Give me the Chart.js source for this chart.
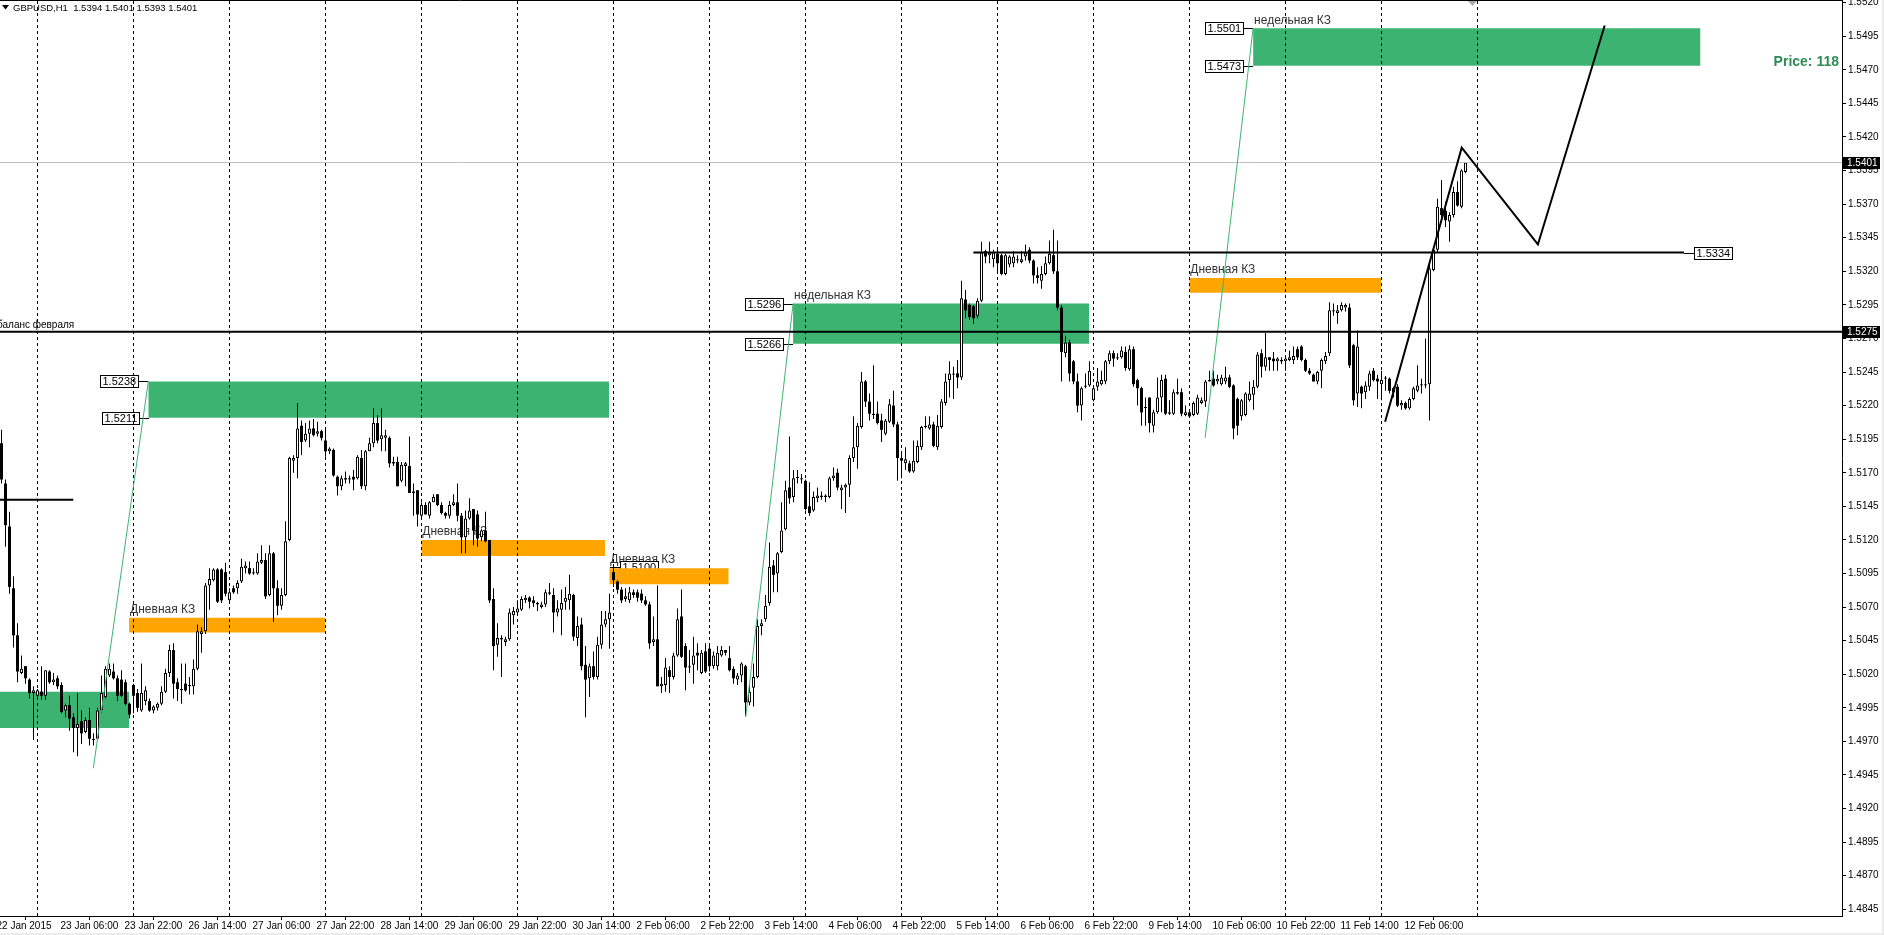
<!DOCTYPE html>
<html>
<head>
<meta charset="utf-8">
<title>GBPUSD,H1</title>
<script src="https://cdn.jsdelivr.net/npm/chart.js@4.4.1/dist/chart.umd.min.js"></script>
<style>
  html, body { margin: 0; padding: 0; background: #fff; }
  canvas { display: block; }
</style>
</head>
<body>
<canvas id="chart" width="1884" height="935"></canvas>
<script>
// GBPUSD H1 candles, one entry per hourly bar
const opens = [
  1.5192,1.5162,1.5130,1.5084,1.5049,1.5021,1.5026,1.5016,1.5006,1.5004,
  1.5007,1.5004,1.5022,1.5014,1.5017,1.5012,1.4993,1.4997,1.4988,1.4980,
  1.4985,1.4977,1.4986,1.4971,1.4972,1.4993,1.5003,1.5019,1.5022,1.5017,
  1.5016,1.5014,1.4998,1.5012,1.5006,1.4993,1.5000,1.5000,1.4993,1.4995,
  1.4998,1.5007,1.5021,1.5038,1.5014,1.5008,1.5013,1.5011,1.5011,1.5024,
  1.5050,1.5052,1.5086,1.5090,1.5098,1.5098,1.5096,1.5075,1.5084,1.5084,
  1.5089,1.5099,1.5099,1.5095,1.5095,1.5103,1.5105,1.5079,1.5110,1.5084,
  1.5071,1.5079,1.5120,1.5179,1.5181,1.5205,1.5194,1.5199,1.5203,1.5199,
  1.5201,1.5194,1.5186,1.5187,1.5167,1.5160,1.5166,1.5165,1.5167,1.5166,
  1.5181,1.5160,1.5186,1.5192,1.5207,1.5195,1.5196,1.5196,1.5178,1.5178,
  1.5164,1.5175,1.5175,1.5156,1.5157,1.5138,1.5146,1.5138,1.5148,1.5154,
  1.5146,1.5140,1.5138,1.5146,1.5148,1.5138,1.5122,1.5136,1.5143,1.5139,
  1.5122,1.5127,1.5120,1.5076,1.5042,1.5047,1.5044,1.5046,1.5064,1.5066,
  1.5068,1.5075,1.5077,1.5075,1.5072,1.5070,1.5072,1.5080,1.5079,1.5066,
  1.5068,1.5074,1.5075,1.5079,1.5047,1.5057,1.5027,1.5017,1.5026,1.5018,
  1.5042,1.5057,1.5061,1.5096,1.5089,1.5083,1.5076,1.5075,1.5081,1.5081,
  1.5080,1.5075,1.5072,1.5044,1.5046,1.5011,1.5012,1.5023,1.5018,1.5034,
  1.5063,1.5041,1.5025,1.5027,1.5036,1.5021,1.5037,1.5039,1.5026,1.5026,
  1.5034,1.5038,1.5032,1.5024,1.5016,1.5019,1.5026,1.4999,1.5010,1.5018,
  1.5056,1.5061,1.5073,1.5101,1.5095,1.5111,1.5128,1.5159,1.5152,1.5166,
  1.5165,1.5164,1.5145,1.5142,1.5151,1.5152,1.5152,1.5152,1.5166,1.5170,
  1.5157,1.5159,1.5161,1.5181,1.5189,1.5204,1.5238,1.5223,1.5213,1.5214,
  1.5209,1.5199,1.5208,1.5220,1.5206,1.5181,1.5177,1.5177,1.5171,1.5178,
  1.5189,1.5204,1.5203,1.5206,1.5189,1.5204,1.5222,1.5239,1.5243,1.5244,
  1.5241,1.5299,1.5295,1.5294,1.5287,1.5298,1.5335,1.5332,1.5329,1.5333,
  1.5332,1.5318,1.5325,1.5326,1.5328,1.5327,1.5331,1.5336,1.5328,1.5317,
  1.5313,1.5318,1.5326,1.5332,1.5320,1.5293,1.5259,1.5267,1.5253,1.5238,
  1.5220,1.5234,1.5235,1.5224,1.5234,1.5236,1.5238,1.5253,1.5259,1.5255,
  1.5256,1.5260,1.5247,1.5262,1.5239,1.5233,1.5218,1.5226,1.5205,1.5215,
  1.5226,1.5240,1.5214,1.5214,1.5230,1.5230,1.5213,1.5215,1.5213,1.5214,
  1.5222,1.5223,1.5238,1.5240,1.5238,1.5236,1.5238,1.5241,1.5235,1.5225,
  1.5212,1.5213,1.5224,1.5228,1.5234,1.5259,1.5249,1.5256,1.5255,1.5253,
  1.5254,1.5253,1.5254,1.5254,1.5262,1.5264,1.5254,1.5246,1.5243,1.5238,
  1.5246,1.5253,1.5259,1.5290,1.5289,1.5291,1.5293,1.5293,1.5265,1.5229,
  1.5234,1.5230,1.5234,1.5246,1.5240,1.5236,1.5240,1.5240,1.5233,1.5234,
  1.5220,1.5222,1.5218,1.5225,1.5231,1.5235,1.5235,1.5236,1.5321,1.5336,
  1.5367,1.5365,1.5357,1.5362,1.5379,1.5368,1.5394
];
const highs = [
  1.5202,1.5165,1.5141,1.5093,1.5058,1.5034,1.5026,1.5017,1.5011,1.5009,
  1.5026,1.5023,1.5023,1.5021,1.5019,1.5014,1.4998,1.5004,1.4991,1.5006,
  1.4993,1.4988,1.4995,1.4976,1.4995,1.5019,1.5026,1.5028,1.5028,1.5019,
  1.5023,1.5016,1.4999,1.5013,1.5009,1.5028,1.5011,1.5002,1.4997,1.4999,
  1.5011,1.5024,1.5042,1.5043,1.5017,1.5028,1.5028,1.5018,1.5031,1.5057,
  1.5055,1.5088,1.5099,1.5099,1.5099,1.5099,1.5103,1.5084,1.5086,1.5090,
  1.5106,1.5104,1.5104,1.5099,1.5110,1.5116,1.5110,1.5116,1.5111,1.5090,
  1.5084,1.5134,1.5182,1.5183,1.5222,1.5209,1.5207,1.5209,1.5210,1.5208,
  1.5202,1.5202,1.5189,1.5188,1.5168,1.5168,1.5171,1.5168,1.5172,1.5183,
  1.5187,1.5187,1.5196,1.5218,1.5213,1.5218,1.5202,1.5197,1.5182,1.5182,
  1.5178,1.5178,1.5197,1.5162,1.5157,1.5148,1.5148,1.5149,1.5154,1.5154,
  1.5148,1.5141,1.5149,1.5154,1.5162,1.5140,1.5142,1.5151,1.5143,1.5142,
  1.5128,1.5141,1.5120,1.5084,1.5058,1.5049,1.5048,1.5069,1.5070,1.5075,
  1.5078,1.5079,1.5078,1.5078,1.5074,1.5074,1.5083,1.5088,1.5084,1.5075,
  1.5083,1.5085,1.5094,1.5080,1.5063,1.5062,1.5041,1.5028,1.5037,1.5048,
  1.5067,1.5067,1.5080,1.5102,1.5090,1.5085,1.5084,1.5085,1.5083,1.5083,
  1.5083,1.5078,1.5074,1.5063,1.5086,1.5018,1.5032,1.5026,1.5036,1.5069,
  1.5083,1.5043,1.5038,1.5048,1.5043,1.5038,1.5043,1.5041,1.5037,1.5041,
  1.5041,1.5038,1.5041,1.5026,1.5021,1.5029,1.5027,1.5013,1.5028,1.5061,
  1.5061,1.5079,1.5118,1.5105,1.5111,1.5148,1.5164,1.5197,1.5172,1.5172,
  1.5169,1.5165,1.5163,1.5156,1.5159,1.5156,1.5154,1.5167,1.5174,1.5173,
  1.5161,1.5162,1.5183,1.5212,1.5207,1.5245,1.5239,1.5229,1.5250,1.5223,
  1.5214,1.5210,1.5225,1.5231,1.5208,1.5186,1.5189,1.5179,1.5194,1.5194,
  1.5205,1.5212,1.5212,1.5208,1.5213,1.5225,1.5244,1.5253,1.5249,1.5254,
  1.5313,1.5306,1.5296,1.5295,1.5300,1.5342,1.5336,1.5342,1.5336,1.5336,
  1.5333,1.5333,1.5332,1.5335,1.5332,1.5335,1.5340,1.5338,1.5329,1.5323,
  1.5324,1.5331,1.5343,1.5351,1.5343,1.5295,1.5272,1.5269,1.5254,1.5244,
  1.5234,1.5244,1.5253,1.5234,1.5248,1.5246,1.5254,1.5261,1.5261,1.5259,
  1.5264,1.5264,1.5265,1.5264,1.5240,1.5234,1.5226,1.5226,1.5217,1.5241,
  1.5243,1.5243,1.5224,1.5232,1.5240,1.5233,1.5220,1.5215,1.5223,1.5228,
  1.5226,1.5239,1.5246,1.5246,1.5243,1.5243,1.5249,1.5243,1.5236,1.5226,
  1.5225,1.5230,1.5238,1.5239,1.5260,1.5262,1.5274,1.5256,1.5260,1.5256,
  1.5256,1.5256,1.5261,1.5264,1.5264,1.5265,1.5255,1.5248,1.5244,1.5246,
  1.5255,1.5260,1.5297,1.5296,1.5295,1.5297,1.5296,1.5296,1.5266,1.5276,
  1.5235,1.5238,1.5246,1.5248,1.5243,1.5246,1.5242,1.5241,1.5234,1.5236,
  1.5224,1.5223,1.5226,1.5234,1.5250,1.5240,1.5270,1.5326,1.5337,1.5374,
  1.5388,1.5372,1.5364,1.5383,1.5387,1.5396,1.5401
];
const lows = [
  1.5162,1.5115,1.5080,1.5040,1.5014,1.5020,1.5013,1.5002,1.4971,1.5003,
  1.5001,1.5001,1.5013,1.5012,1.5009,1.4991,1.4988,1.4978,1.4962,1.4959,
  1.4968,1.4976,1.4967,1.4967,1.4971,1.4991,1.5002,1.5018,1.5016,1.5000,
  1.5003,1.4997,1.4987,1.4991,1.4992,1.4992,1.4997,1.4992,1.4991,1.4993,
  1.4997,1.5006,1.5018,1.5002,1.5000,1.4998,1.5007,1.5005,1.5005,1.5023,
  1.5036,1.5050,1.5068,1.5089,1.5073,1.5073,1.5078,1.5073,1.5080,1.5080,
  1.5088,1.5095,1.5094,1.5094,1.5094,1.5102,1.5076,1.5078,1.5059,1.5064,
  1.5068,1.5078,1.5119,1.5170,1.5166,1.5183,1.5193,1.5189,1.5197,1.5197,
  1.5194,1.5182,1.5184,1.5167,1.5153,1.5157,1.5162,1.5162,1.5157,1.5165,
  1.5158,1.5157,1.5186,1.5189,1.5192,1.5186,1.5186,1.5174,1.5175,1.5160,
  1.5163,1.5160,1.5155,1.5138,1.5130,1.5136,1.5139,1.5136,1.5148,1.5145,
  1.5139,1.5136,1.5136,1.5145,1.5134,1.5110,1.5110,1.5135,1.5116,1.5115,
  1.5119,1.5118,1.5073,1.5023,1.5033,1.5018,1.5041,1.5045,1.5057,1.5064,
  1.5067,1.5073,1.5069,1.5070,1.5067,1.5069,1.5070,1.5079,1.5051,1.5063,
  1.5049,1.5068,1.5068,1.5045,1.5041,1.5023,1.4988,1.5003,1.5016,1.5016,
  1.5039,1.5055,1.5039,1.5085,1.5080,1.5073,1.5074,1.5073,1.5077,1.5074,
  1.5073,1.5071,1.5039,1.5041,1.5011,1.5006,1.5007,1.5006,1.5016,1.5033,
  1.5032,1.5008,1.5021,1.5013,1.5023,1.5020,1.5021,1.5022,1.5024,1.5023,
  1.5033,1.5034,1.5022,1.5013,1.5012,1.5014,1.4989,1.4997,1.4996,1.5017,
  1.5049,1.5059,1.5071,1.5081,1.5081,1.5110,1.5127,1.5147,1.5148,1.5162,
  1.5162,1.5142,1.5138,1.5141,1.5148,1.5150,1.5148,1.5151,1.5164,1.5157,
  1.5143,1.5140,1.5152,1.5178,1.5173,1.5203,1.5219,1.5209,1.5210,1.5206,
  1.5193,1.5198,1.5207,1.5204,1.5164,1.5166,1.5172,1.5170,1.5170,1.5177,
  1.5187,1.5203,1.5202,1.5189,1.5187,1.5203,1.5220,1.5226,1.5225,1.5233,
  1.5239,1.5285,1.5284,1.5281,1.5285,1.5297,1.5326,1.5326,1.5323,1.5318,
  1.5317,1.5317,1.5323,1.5323,1.5326,1.5326,1.5328,1.5326,1.5311,1.5311,
  1.5307,1.5317,1.5325,1.5318,1.5291,1.5238,1.5256,1.5238,1.5236,1.5215,
  1.5209,1.5233,1.5234,1.5223,1.5231,1.5235,1.5236,1.5251,1.5249,1.5254,
  1.5255,1.5246,1.5246,1.5234,1.5220,1.5205,1.5205,1.5200,1.5200,1.5214,
  1.5215,1.5213,1.5213,1.5213,1.5228,1.5212,1.5212,1.5211,1.5212,1.5213,
  1.5221,1.5219,1.5238,1.5234,1.5236,1.5235,1.5236,1.5233,1.5195,1.5198,
  1.5209,1.5212,1.5223,1.5217,1.5233,1.5241,1.5246,1.5246,1.5246,1.5246,
  1.5251,1.5246,1.5253,1.5251,1.5254,1.5253,1.5245,1.5243,1.5238,1.5236,
  1.5233,1.5251,1.5257,1.5287,1.5281,1.5290,1.5290,1.5248,1.5220,1.5219,
  1.5218,1.5225,1.5231,1.5238,1.5225,1.5224,1.5231,1.5229,1.5226,1.5219,
  1.5217,1.5217,1.5217,1.5224,1.5230,1.5229,1.5233,1.5209,1.5320,1.5334,
  1.5359,1.5353,1.5342,1.5360,1.5368,1.5367,1.5393
];
const closes = [
  1.5165,1.5131,1.5085,1.5049,1.5022,1.5024,1.5017,1.5006,1.5008,1.5008,
  1.5004,1.5023,1.5014,1.5016,1.5011,1.4992,1.4997,1.4987,1.4980,1.4983,
  1.4976,1.4986,1.4972,1.4972,1.4993,1.5006,1.5024,1.5024,1.5017,1.5004,
  1.5004,1.4998,1.4990,1.5004,1.4995,1.5006,1.5008,1.4993,1.4996,1.4998,
  1.5007,1.5021,1.5038,1.5013,1.5009,1.5009,1.5008,1.5012,1.5024,1.5052,
  1.5052,1.5086,1.5091,1.5098,1.5074,1.5075,1.5080,1.5081,1.5081,1.5088,
  1.5100,1.5101,1.5095,1.5096,1.5104,1.5105,1.5078,1.5110,1.5084,1.5071,
  1.5079,1.5119,1.5181,1.5181,1.5203,1.5193,1.5199,1.5203,1.5198,1.5201,
  1.5196,1.5186,1.5188,1.5168,1.5160,1.5166,1.5165,1.5166,1.5165,1.5182,
  1.5160,1.5186,1.5192,1.5207,1.5194,1.5198,1.5198,1.5177,1.5177,1.5160,
  1.5176,1.5177,1.5155,1.5155,1.5139,1.5146,1.5139,1.5148,1.5152,1.5146,
  1.5140,1.5138,1.5146,1.5148,1.5138,1.5122,1.5136,1.5142,1.5127,1.5121,
  1.5127,1.5119,1.5075,1.5041,1.5047,1.5046,1.5046,1.5066,1.5067,1.5069,
  1.5076,1.5077,1.5074,1.5073,1.5073,1.5072,1.5081,1.5081,1.5066,1.5069,
  1.5073,1.5077,1.5080,1.5048,1.5056,1.5026,1.5016,1.5026,1.5018,1.5042,
  1.5057,1.5061,1.5066,1.5090,1.5083,1.5075,1.5078,1.5081,1.5079,1.5077,
  1.5075,1.5072,1.5043,1.5046,1.5011,1.5013,1.5025,1.5018,1.5034,1.5061,
  1.5033,1.5025,1.5026,1.5034,1.5034,1.5036,1.5022,1.5026,1.5034,1.5036,
  1.5038,1.5036,1.5023,1.5017,1.5019,1.5028,1.4999,1.5007,1.5018,1.5056,
  1.5058,1.5071,1.5100,1.5094,1.5110,1.5127,1.5157,1.5151,1.5166,1.5167,
  1.5166,1.5143,1.5140,1.5152,1.5153,1.5153,1.5153,1.5166,1.5168,1.5159,
  1.5159,1.5161,1.5181,1.5189,1.5205,1.5238,1.5223,1.5214,1.5214,1.5207,
  1.5202,1.5209,1.5221,1.5206,1.5181,1.5179,1.5180,1.5171,1.5179,1.5190,
  1.5204,1.5205,1.5206,1.5190,1.5205,1.5223,1.5238,1.5244,1.5244,1.5241,
  1.5300,1.5291,1.5286,1.5285,1.5298,1.5334,1.5331,1.5334,1.5334,1.5326,
  1.5318,1.5332,1.5331,1.5331,1.5329,1.5329,1.5334,1.5328,1.5317,1.5315,
  1.5318,1.5326,1.5333,1.5320,1.5293,1.5260,1.5267,1.5244,1.5238,1.5220,
  1.5233,1.5235,1.5246,1.5233,1.5238,1.5239,1.5253,1.5259,1.5255,1.5256,
  1.5261,1.5248,1.5262,1.5236,1.5233,1.5215,1.5219,1.5207,1.5215,1.5226,
  1.5239,1.5214,1.5215,1.5230,1.5229,1.5214,1.5215,1.5212,1.5222,1.5226,
  1.5224,1.5238,1.5239,1.5235,1.5240,1.5241,1.5241,1.5234,1.5203,1.5205,
  1.5224,1.5229,1.5229,1.5234,1.5258,1.5249,1.5256,1.5254,1.5253,1.5255,
  1.5253,1.5255,1.5256,1.5257,1.5256,1.5254,1.5246,1.5244,1.5238,1.5245,
  1.5254,1.5257,1.5291,1.5291,1.5291,1.5295,1.5295,1.5250,1.5224,1.5264,
  1.5229,1.5235,1.5244,1.5239,1.5238,1.5239,1.5241,1.5231,1.5230,1.5220,
  1.5222,1.5218,1.5225,1.5233,1.5235,1.5236,1.5236,1.5322,1.5336,1.5368,
  1.5362,1.5358,1.5362,1.5379,1.5369,1.5395,1.5401
];

// time axis labels (one every 16 bars) and price axis labels
const timeLabels = [
  "22 Jan 2015", "23 Jan 06:00", "23 Jan 22:00", "26 Jan 14:00", "27 Jan 06:00",
  "27 Jan 22:00", "28 Jan 14:00", "29 Jan 06:00", "29 Jan 22:00", "30 Jan 14:00",
  "2 Feb 06:00", "2 Feb 22:00", "3 Feb 14:00", "4 Feb 06:00", "4 Feb 22:00",
  "5 Feb 14:00", "6 Feb 06:00", "6 Feb 22:00", "9 Feb 14:00", "10 Feb 06:00",
  "10 Feb 22:00", "11 Feb 14:00", "12 Feb 06:00"
];
const priceTicks = [
  1.4845, 1.4870, 1.4895, 1.4920, 1.4945, 1.4970, 1.4995, 1.5020, 1.5045, 1.5070,
  1.5095, 1.5120, 1.5145, 1.5170, 1.5195, 1.5220, 1.5245, 1.5270, 1.5295, 1.5320,
  1.5345, 1.5370, 1.5395, 1.5420, 1.5445, 1.5470, 1.5495, 1.5520
];

// "КЗ" zones: bar range and price range
const greenFrom = [-0.4, 36.7, 197.9, 312.9];
const greenTo = [31.9, 151.9, 271.9, 424.75];
const greenLow = [1.4980, 1.5211, 1.5266, 1.5473];
const greenHigh = [1.5007, 1.5238, 1.5296, 1.5501];
const greenCaption = ["", "", "недельная КЗ", "недельная КЗ"];
const orangeFrom = [31.9, 104.95, 151.95, 296.95];
const orangeTo = [80.9, 150.9, 181.8, 344.9];
const orangeLow = [1.5051, 1.5108, 1.5087, 1.5304];
const orangeHigh = [1.5062, 1.5120, 1.5099, 1.5315];
const orangeCaption = ["Дневная КЗ", "Дневная КЗ", "Дневная КЗ", "Дневная КЗ"];

// thin green impulse lines into the weekly zones
const impulseStart = [[22.95, 1.4950], [186.05, 1.4988], [300.9, 1.5196]];
const impulseEnd = [[36.7, 1.5238], [197.9, 1.5296], [312.9, 1.5501]];

// forecast path (black)
const forecastBars = [345.9, 365.05, 384.1, 400.8];
const forecastPrices = [1.5208, 1.5412, 1.5340, 1.5503];

// horizontal levels
const balancePrice = 1.5275;
const levelPrice = 1.5334, levelFrom = 242.96, levelTo = 420.6;
const oldLevelPrice = 1.5150, oldLevelTo = 17.95;
const lastPrice = closes[closes.length - 1];

// price tags: L = box left of anchor, R = box right of anchor
const tagPrices = [1.5238, 1.5211, 1.5296, 1.5266, 1.5501, 1.5473, 1.5100, 1.5334];
const tagBars = [36.7, 36.9, 197.9, 197.9, 312.9, 312.9, 152.1, 420.6];
const tagSides = ["L", "L", "L", "L", "L", "L", "R", "R"];

const xMin = -0.375, xMax = 460.125;
const yMin = 1.4840, yMax = 1.5522;
const FONT = '"Liberation Sans", Arial, sans-serif';

Chart.defaults.font.family = FONT;
Chart.defaults.font.size = 10;
Chart.defaults.color = "#000";

const n = opens.length;
const wickData = [], upData = [], downData = [];
for (let i = 0; i < n; i++) {
  const lo = Math.min(lows[i], opens[i], closes[i]);
  const hi = Math.max(highs[i], opens[i], closes[i]);
  wickData.push({ x: i, y: [lo, hi] });
  const body = { x: i, y: [opens[i], closes[i]] };
  if (closes[i] >= opens[i]) upData.push(body); else downData.push(body);
}

// dashed day separators
const dayLines = [];
for (let d = 9; d < n + 4; d += 24) {
  dayLines.push({ x: d, y: yMin }, { x: d, y: yMax }, { x: d, y: null });
}

const lineSet = (points, color, width, order) => ({
  type: "line", data: points, borderColor: color, borderWidth: width,
  pointRadius: 0, fill: false, tension: 0, order: order
});
const zoneSet = (from, to, low, high, color) => ({
  type: "line", data: [{ x: from, y: high }, { x: to, y: high }],
  fill: { value: low }, backgroundColor: color, borderColor: "transparent",
  borderWidth: 0, pointRadius: 0, order: 20
});

const datasets = [];
greenFrom.forEach((f, i) => datasets.push(zoneSet(f, greenTo[i], greenLow[i], greenHigh[i], "#3cb371")));
orangeFrom.forEach((f, i) => datasets.push(zoneSet(f, orangeTo[i], orangeLow[i], orangeHigh[i], "#ffa500")));
datasets.push(Object.assign(lineSet(dayLines, "#000", 1, 15), { borderDash: [3, 3], spanGaps: false }));
datasets.push({
  type: "bar", data: wickData, backgroundColor: "#000", borderWidth: 0,
  barThickness: 1, maxBarThickness: 1, grouped: false, minBarLength: 1, inflateAmount: 0, order: 10
});
datasets.push({
  type: "bar", data: downData, backgroundColor: "#000", borderWidth: 0,
  barThickness: 3, maxBarThickness: 3, grouped: false, minBarLength: 1, inflateAmount: 0, order: 9
});
datasets.push({
  type: "bar", data: upData, backgroundColor: "#fff", borderColor: "#000", borderWidth: 1,
  borderSkipped: false, barThickness: 3, maxBarThickness: 3, grouped: false, minBarLength: 1,
  inflateAmount: 0, order: 8
});
datasets.push(lineSet([{ x: xMin, y: lastPrice }, { x: xMax, y: lastPrice }], "#c0c0c0", 1, 7));
impulseStart.forEach((s, i) => datasets.push(lineSet(
  [{ x: s[0], y: s[1] }, { x: impulseEnd[i][0], y: impulseEnd[i][1] }], "#3cb371", 1, 5)));
datasets.push(lineSet([{ x: xMin, y: balancePrice }, { x: xMax, y: balancePrice }], "#000", 2, 3));
datasets.push(lineSet([{ x: levelFrom, y: levelPrice }, { x: levelTo, y: levelPrice }], "#000", 2, 3));
datasets.push(lineSet([{ x: xMin, y: oldLevelPrice }, { x: oldLevelTo, y: oldLevelPrice }], "#000", 2, 3));
datasets.push(lineSet(forecastBars.map((b, i) => ({ x: b, y: forecastPrices[i] })), "#000", 2, 2));

function drawTag(ctx, text, ax, ay, side) {
  ctx.font = "11px " + FONT;
  const w = Math.ceil(ctx.measureText(text).width) + 4, h = 12;
  const bx = Math.round(side === "L" ? ax - 10 - w : ax + 10);
  const by = Math.round(ay - h / 2);
  ctx.strokeStyle = "#000";
  ctx.lineWidth = 1;
  ctx.beginPath();
  ctx.moveTo(ax, Math.round(ay) + 0.5);
  ctx.lineTo(side === "L" ? bx + w : bx, Math.round(ay) + 0.5);
  ctx.stroke();
  ctx.fillStyle = "#fff";
  ctx.fillRect(bx, by, w, h);
  ctx.strokeRect(bx + 0.5, by + 0.5, w, h);
  ctx.fillStyle = "#000";
  ctx.textAlign = "left";
  ctx.textBaseline = "middle";
  ctx.fillText(text, bx + 2.5, by + h / 2 + 1);
}

const overlay = {
  id: "overlay",
  beforeDatasetsDraw(chart) {
    const { ctx, scales: { x, y } } = chart;
    ctx.save();
    ctx.font = "12px " + FONT;
    ctx.fillStyle = "#333";
    ctx.textAlign = "left";
    ctx.textBaseline = "bottom";
    orangeCaption.forEach((t, i) => {
      if (t) ctx.fillText(t, x.getPixelForValue(orangeFrom[i]) + 1, y.getPixelForValue(orangeHigh[i]) - 2);
    });
    greenCaption.forEach((t, i) => {
      if (t) ctx.fillText(t, x.getPixelForValue(greenFrom[i]) + 1, y.getPixelForValue(greenHigh[i]) - 2);
    });
    ctx.font = "10px " + FONT;
    ctx.fillStyle = "#000";
    ctx.fillText("баланс февраля", -3, y.getPixelForValue(balancePrice) - 1.5);
    tagPrices.forEach((p, i) => {
      drawTag(ctx, p.toFixed(4), x.getPixelForValue(tagBars[i]), y.getPixelForValue(p), tagSides[i]);
    });
    ctx.restore();
  },
  afterDraw(chart) {
    const { ctx, chartArea: area, scales: { y } } = chart;
    ctx.save();
    // frame top
    ctx.strokeStyle = "#000";
    ctx.lineWidth = 1;
    ctx.beginPath();
    ctx.moveTo(0, 0.5);
    ctx.lineTo(area.right, 0.5);
    ctx.stroke();
    // highlighted prices on the axis
    [lastPrice, balancePrice].forEach(p => {
      const py = y.getPixelForValue(p);
      ctx.fillStyle = "#000";
      ctx.fillRect(area.right + 1, Math.round(py - 6), 37, 12);
      ctx.fillStyle = "#fff";
      ctx.font = "10px " + FONT;
      ctx.textAlign = "left";
      ctx.textBaseline = "middle";
      ctx.fillText(p.toFixed(4), area.right + 5, py + 0.5);
    });
    // header
    ctx.fillStyle = "#000";
    ctx.beginPath();
    ctx.moveTo(2, 5); ctx.lineTo(9, 5); ctx.lineTo(5.5, 9.5); ctx.closePath();
    ctx.fill();
    ctx.font = "9.5px " + FONT;
    ctx.textAlign = "left";
    ctx.textBaseline = "middle";
    const last = n - 1;
    ctx.fillText("GBPUSD,H1  " + [opens[last], highs[last], lows[last], closes[last]]
      .map(v => v.toFixed(4)).join(" "), 13, 8);
    // label on the chart
    ctx.font = "bold 14px " + FONT;
    ctx.fillStyle = "#2e8b57";
    ctx.textAlign = "right";
    ctx.fillText("Price: 118", area.right - 3, 62);
    // chart shift marker
    ctx.fillStyle = "#a8a8a8";
    ctx.beginPath();
    ctx.moveTo(1468, 1); ctx.lineTo(1477, 1); ctx.lineTo(1472.5, 6); ctx.closePath();
    ctx.fill();
    // window edge
    ctx.fillStyle = "#ececec";
    ctx.fillRect(1882, 0, 2, 935);
    ctx.fillRect(0, 933, 1884, 2);
    ctx.restore();
  }
};

const chartCtx = document.getElementById("chart").getContext("2d");
new Chart(chartCtx, {
  type: "bar",
  data: { datasets: datasets },
  options: {
    responsive: false,
    devicePixelRatio: 1,
    animation: false,
    events: [],
    layout: { padding: 0 },
    plugins: { legend: { display: false }, tooltip: { enabled: false } },
    scales: {
      x: {
        type: "linear",
        position: "bottom",
        min: xMin,
        max: xMax,
        offset: false,
        grid: { display: true, drawOnChartArea: false, drawTicks: true, tickLength: 4, tickColor: "#000" },
        border: { display: true, color: "#000", width: 1 },
        afterBuildTicks: s => { s.ticks = timeLabels.map((t, i) => ({ value: -2 + 16 * i })); },
        afterFit: s => { s.height = 19; s.paddingLeft = 0; s.paddingRight = 0; },
        ticks: {
          autoSkip: false, maxRotation: 0, minRotation: 0, align: "start",
          labelOffset: 3, padding: 0, font: { size: 10 }, color: "#000",
          callback: (v, i) => timeLabels[i]
        }
      },
      y: {
        type: "linear",
        position: "right",
        min: yMin,
        max: yMax,
        grid: { display: true, drawOnChartArea: false, drawTicks: true, tickLength: 4, tickColor: "#000" },
        border: { display: true, color: "#000", width: 1 },
        afterBuildTicks: s => { s.ticks = priceTicks.map(v => ({ value: v })); },
        afterFit: s => { s.width = 42; s.paddingTop = 0; s.paddingBottom = 0; },
        ticks: { padding: 2, font: { size: 10 }, color: "#000", callback: v => v.toFixed(4) }
      }
    }
  },
  plugins: [overlay]
});
</script>
</body>
</html>
